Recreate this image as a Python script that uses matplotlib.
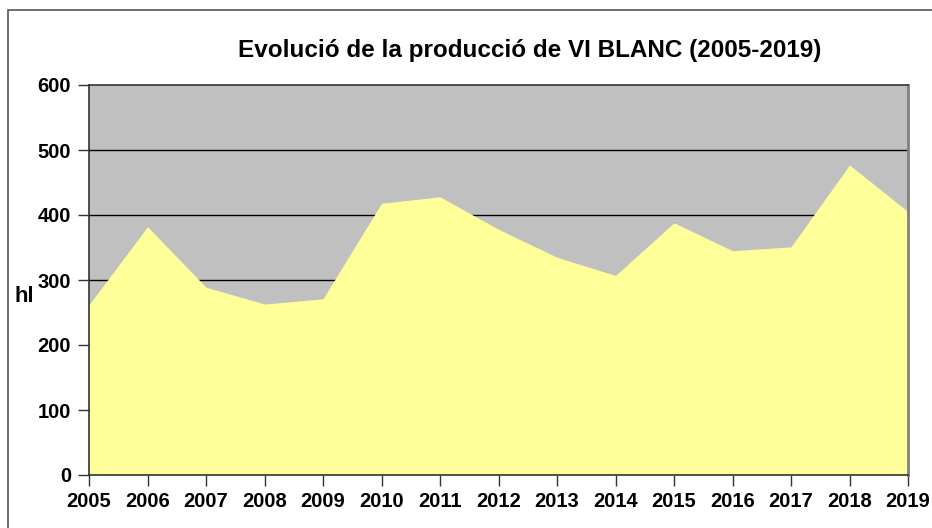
import matplotlib.pyplot as plt
from matplotlib.patches import Rectangle

plt.rcParams['font.family'] = ['Liberation Sans', 'DejaVu Sans']
plt.rcParams['font.weight'] = 'bold'

years = ['2005', '2006', '2007', '2008', '2009', '2010', '2011', '2012',
         '2013', '2014', '2015', '2016', '2017', '2018', '2019']
hl = [262, 382, 289, 263, 271, 418, 428, 378, 335, 307, 388, 345, 351, 477, 405]
yticks = [0, 100, 200, 300, 400, 500, 600]

fig = plt.figure(figsize=(9.32, 5.28), dpi=100)
ax = fig.add_axes([89 / 932, 1 - 475 / 528, (908 - 89) / 932, (475 - 85) / 528])

# outer chart frame (cut by the image edge on the right and bottom)
fig.patches.append(Rectangle((8 / 932, -0.1), 1.2, 1 - 10 / 528 + 0.1,
                             transform=fig.transFigure, fill=False,
                             edgecolor='#555555', linewidth=1.2))

x = list(range(len(years)))
ax.set_facecolor('#C0C0C0')
ax.fill_between(x, hl, 0, color='#FFFF99', linewidth=0, zorder=2)
for v in yticks[1:-1]:
    ax.axhline(v, color='black', linewidth=1, zorder=1)

ax.set_xlim(0, len(years) - 1)
ax.set_ylim(0, 600)
ax.set_xticks(x)
ax.set_xticklabels(years)
ax.set_yticks(yticks)
ax.tick_params(axis='both', direction='out', length=8, width=1,
               labelsize=14.5, color='#333333')
ax.tick_params(axis='x', pad=4)
ax.tick_params(axis='y', pad=5)
for lbl in ax.get_xticklabels() + ax.get_yticklabels():
    lbl.set_fontweight('bold')

for s in ['left', 'bottom', 'top']:
    ax.spines[s].set_color('#333333')
    ax.spines[s].set_linewidth(1.2)
ax.spines['right'].set_color('#808080')
ax.spines['right'].set_linewidth(2)
for s in ax.spines.values():
    s.set_zorder(3)

fig.text(530 / 932, 1 - 50 / 528, 'Evolució de la producció de VI BLANC (2005-2019)',
         fontsize=17.5, fontweight='bold', ha='center', va='center')
fig.text(14 / 932, 1 - 297 / 528, 'hl', fontsize=16, fontweight='bold',
         va='center', ha='left')

fig.savefig('out.png', dpi=100)
